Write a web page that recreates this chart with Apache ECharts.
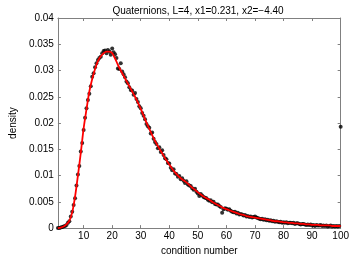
<!DOCTYPE html>
<html>
<head>
<meta charset="utf-8">
<script src="https://cdn.jsdelivr.net/npm/echarts@6/dist/echarts.min.js"></script>
<style>html,body{margin:0;padding:0;background:#fff;}#c{width:352px;height:261px;}</style>
</head>
<body>
<div id="c"></div>
<script>
var titleText = "Quaternions, L=4, x1=0.231, x2=\u22124.40";
var xTicks = [10,20,30,40,50,60,70,80,90,100];
var yTicks = [0,0.005,0.01,0.015,0.02,0.025,0.03,0.035,0.04];

var dotX = [1,1.5,2,2.5,3,3.5,4,4.5,5,5.5,6,6.5,7,7.5,8,8.5,9,9.5,10,10.5,
11,11.5,12,12.5,13,13.5,14,14.5,15,15.5,16,16.5,17,17.5,18,18.5,19,19.5,20,20.5,
21,21.5,22,22.5,23,23.5,24,24.5,25,25.5,26,26.5,27,27.5,28,28.5,29,29.5,30,30.5,
31,31.5,32,32.5,33,33.5,34,34.5,35,35.5,36,36.5,37,37.5,38,38.5,39,39.5,40,40.5,
41,41.5,42,42.5,43,43.5,44,44.5,45,45.5,46,46.5,47,47.5,48,48.5,49,49.5,50,50.5,
51,51.5,52,52.5,53,53.5,54,54.5,55,55.5,56,56.5,57,57.5,58,58.5,59,59.5,60,60.5,
61,61.5,62,62.5,63,63.5,64,64.5,65,65.5,66,66.5,67,67.5,68,68.5,69,69.5,70,70.5,
71,71.5,72,72.5,73,73.5,74,74.5,75,75.5,76,76.5,77,77.5,78,78.5,79,79.5,80,80.5,
81,81.5,82,82.5,83,83.5,84,84.5,85,85.5,86,86.5,87,87.5,88,88.5,89,89.5,90,90.5,
91,91.5,92,92.5,93,93.5,94,94.5,95,95.5,96,96.5,97,97.5,98,98.5,99,99.5,100];

var dotY = [0.0000,0.0000,0.0001,0.0002,0.0003,0.0004,0.0006,0.0010,0.0013,0.0022,
0.0031,0.0044,0.0057,0.0081,0.0102,0.0118,0.0146,0.0162,0.0187,0.0210,
0.0228,0.0244,0.0256,0.0270,0.0288,0.0295,0.0306,0.0314,0.0320,0.0324,
0.0326,0.0333,0.0337,0.0338,0.0333,0.0339,0.0336,0.0330,0.0342,0.0335,
0.0331,0.0324,0.0304,0.0303,0.0314,0.0298,0.0293,0.0287,0.0279,0.0276,
0.0268,0.0263,0.0262,0.0254,0.0257,0.0246,0.0240,0.0232,0.0228,0.0219,
0.0214,0.0207,0.0198,0.0194,0.0191,0.0180,0.0182,0.0170,0.0164,0.0160,
0.0152,0.0154,0.0145,0.0148,0.0139,0.0133,0.0131,0.0124,0.0123,0.0115,
0.0110,0.0112,0.0104,0.0103,0.0098,0.0099,0.0093,0.0095,0.0090,0.0086,
0.0089,0.0083,0.0081,0.0080,0.0076,0.0073,0.0075,0.0069,0.0066,0.0061,
0.0065,0.0062,0.0059,0.0058,0.0057,0.0054,0.0052,0.0053,0.0049,0.0050,
0.0046,0.0045,0.0045,0.0042,0.0040,0.0029,0.0036,0.0038,0.0037,0.0035,
0.0036,0.0033,0.0031,0.0030,0.0031,0.0028,0.0029,0.0026,0.0027,0.0026,
0.0024,0.0025,0.0022,0.0023,0.0021,0.0022,0.0020,0.0021,0.0022,0.0020,
0.0019,0.0018,0.0017,0.0018,0.0016,0.0017,0.0015,0.0016,0.0014,0.0015,
0.0013,0.0014,0.0012,0.0013,0.0012,0.0011,0.0012,0.0010,0.0011,0.0010,
0.0011,0.0009,0.0010,0.0010,0.0009,0.0010,0.0008,0.0009,0.0009,0.0008,
0.0007,0.0008,0.0008,0.0007,0.0006,0.0007,0.0006,0.0007,0.0005,0.0006,
0.0004,0.0006,0.0005,0.0005,0.0006,0.0004,0.0005,0.0004,0.0005,0.0003,
0.0004,0.0005,0.0003,0.0004,0.0003,0.0004,0.0003,0.0004,0.0193];

var fitX = [1,2,3,4,5,6,7,8,9,10,11,12,13,14,15,16,17,18,19,20,
21,22,23,24,25,26,27,28,29,30,31,32,33,34,35,36,37,38,39,40,
41,42,43,44,45,46,47,48,49,50,51,52,53,54,55,56,57,58,59,60,
61,62,63,64,65,66,67,68,69,70,71,72,73,74,75,76,77,78,79,80,
81,82,83,84,85,86,87,88,89,90,91,92,93,94,95,96,97,98,99,100];

var fitY = [0.0000,0.0001,0.0003,0.0007,0.0014,0.0030,0.0060,0.0100,0.0143,0.0190,
0.0226,0.0260,0.0284,0.0303,0.0318,0.0327,0.0333,0.0336,0.0336,0.0333,
0.0323,0.0311,0.0300,0.0290,0.0280,0.0270,0.0260,0.0250,0.0239,0.0227,
0.0214,0.0201,0.0189,0.0177,0.0166,0.0156,0.0147,0.0138,0.0129,0.0121,
0.0113,0.0106,0.0100,0.0095,0.0091,0.0087,0.0082,0.0077,0.0073,0.0068,
0.0064,0.0060,0.0057,0.0054,0.0050,0.0047,0.0044,0.0041,0.0038,0.0036,
0.0034,0.0032,0.0030,0.0028,0.0026,0.0025,0.0023,0.0022,0.0021,0.0020,
0.0019,0.0018,0.0017,0.0016,0.0015,0.0014,0.0013,0.0013,0.0012,0.0011,
0.0011,0.0010,0.0010,0.0009,0.0009,0.0008,0.0008,0.0007,0.0007,0.0006,
0.0006,0.0006,0.0005,0.0005,0.0005,0.0005,0.0004,0.0004,0.0004,0.0004];

var FONT = "Liberation Sans";
var axisCol = "#808080";
var dots = dotX.map(function(x, i){ return [x, dotY[i]]; });
var fit = fitX.map(function(x, i){ return [x, fitY[i]]; });

var chart = echarts.init(document.getElementById('c'), null, {renderer:'canvas'});
chart.setOption({
  animation: false,
  backgroundColor: '#fff',
  title: {
    text: titleText, left: 193, textAlign: 'center', top: 1,
    textStyle: {fontFamily: FONT, fontSize: 10, fontWeight: 'normal', color: '#000'}
  },
  grid: {left: 43, top: 18, right: 9, bottom: 25, containLabel: false},
  xAxis: [{
    type: 'value', min: 1, max: 100, position: 'bottom',
    name: 'condition number', nameLocation: 'middle', nameGap: 13,
    nameTextStyle: {fontFamily: FONT, fontSize: 10, color: '#000'},
    axisLine: {show: true, onZero: false, lineStyle: {color: axisCol, width: 1}},
    axisTick: {show: true, inside: true, length: 3, customValues: xTicks, lineStyle: {color: axisCol}},
    axisLabel: {show: true, customValues: xTicks, margin: 3, fontFamily: FONT, fontSize: 10, color: '#000'},
    splitLine: {show: false}
  }, {
    type: 'value', min: 1, max: 100, position: 'top',
    axisLine: {show: true, onZero: false, lineStyle: {color: axisCol, width: 1}},
    axisTick: {show: true, inside: true, length: 3, customValues: xTicks, lineStyle: {color: axisCol}},
    axisLabel: {show: false}, splitLine: {show: false}
  }],
  yAxis: [{
    type: 'value', min: 0, max: 0.04, interval: 0.005, position: 'left',
    name: 'density', nameLocation: 'middle', nameGap: 31, nameRotate: 90,
    nameTextStyle: {fontFamily: FONT, fontSize: 10, color: '#000'},
    axisLine: {show: true, onZero: false, lineStyle: {color: axisCol, width: 1}},
    axisTick: {show: true, inside: true, length: 3, lineStyle: {color: axisCol}},
    axisLabel: {show: true, margin: 4, fontFamily: FONT, fontSize: 10, color: '#000',
      customValues: yTicks,
      formatter: function(v){ return String(+v.toFixed(3)); }},
    splitLine: {show: false}
  }, {
    type: 'value', min: 0, max: 0.04, interval: 0.005, position: 'right',
    axisLine: {show: true, onZero: false, lineStyle: {color: axisCol, width: 1}},
    axisTick: {show: true, inside: true, length: 3, lineStyle: {color: axisCol}},
    axisLabel: {show: false}, splitLine: {show: false}
  }],
  series: [{
    type: 'scatter', xAxisIndex: 0, yAxisIndex: 0, data: dots,
    symbol: 'circle', symbolSize: 4, clip: false,
    itemStyle: {color: '#000'}, z: 2
  }, {
    type: 'line', xAxisIndex: 0, yAxisIndex: 0, data: fit,
    showSymbol: false, smooth: 0.3, clip: true,
    lineStyle: {color: '#ff0000', width: 1.8}, z: 3
  }]
});
</script>
</body>
</html>
